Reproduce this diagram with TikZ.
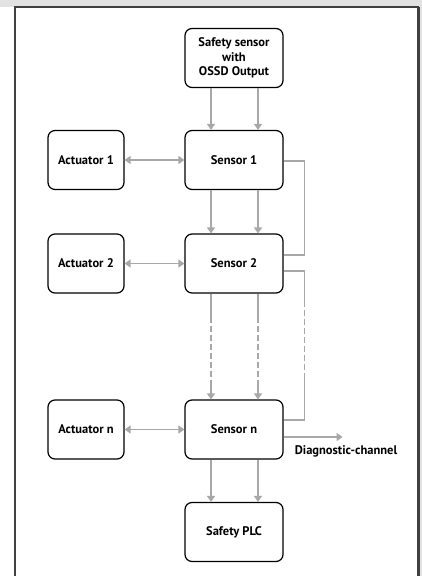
\documentclass[tikz,border=0pt]{standalone}
\usepackage{fontspec}
\setmainfont{PT Sans}
\usetikzlibrary{arrows.meta,calc}
\definecolor{connc}{HTML}{A8A8A8}
\definecolor{framec}{HTML}{404040}
\definecolor{bgc}{HTML}{E2E2E2}
\begin{document}
\begin{tikzpicture}[x=1pt,y=-1pt,
  box/.style={draw=black,line width=1.2pt,rounded corners=7pt,fill=white,
    minimum width=98pt,minimum height=59pt,align=center,inner sep=0pt,
    font=\bfseries\fontsize{12.5}{14.5}\selectfont},
  actbox/.style={box,minimum width=76pt},
  connline/.style={draw=connc,line width=1.4pt},
  tiparrow/.style={-{Triangle[width=8pt,length=6pt]}},
  bothtips/.style={{Triangle[width=8pt,length=6pt]}-{Triangle[width=8pt,length=6pt]}},
  lbl/.style={font=\bfseries\fontsize{12.5}{14}\selectfont,inner sep=0pt}
]
\useasboundingbox (0,0) rectangle (422,576);
\fill[bgc] (0,0) rectangle (422,576);
\fill[white] (0,7) rectangle (419,576);
\draw[framec,line width=1.3pt] (14,7) -- (419,7);
\draw[framec,line width=2pt] (14.8,7) -- (14.8,576);
\draw[framec,line width=2.4pt] (418.3,7) -- (418.3,576);

\node[box] (safe) at (234,58) {Safety sensor\\with\\OSSD Output};
\node[box] (s1) at (234,160) {Sensor 1};
\node[box] (s2) at (234,263.5) {Sensor 2};
\node[box] (sn) at (234,429.5) {Sensor n};
\node[box] (plc) at (234,532) {Safety PLC};
\node[actbox] (a1) at (86,160) {Actuator 1};
\node[actbox] (a2) at (86,263.5) {Actuator 2};
\node[actbox] (an) at (86,429.5) {Actuator n};
\node[lbl,anchor=north] (diag) at (346,445) {Diagnostic-channel};

\foreach \a/\b in {safe/s1,s1/s2,sn/plc}
  \foreach \dx in {-23,24}
    \draw[connline,tiparrow] ($(\a.south)+(\dx,0)$) -- ($(\b.north)+(\dx,0)$);

\foreach \dx in {-23,24}
  \draw[connline,tiparrow,dash pattern=on 29pt off 3pt on 6pt off 3pt on 6pt off 3pt on 6pt off 3pt on 6pt off 3pt on 6pt off 3pt on 6pt off 3pt on 60pt]
    ($(s2.south)+(\dx,0)$) -- ($(sn.north)+(\dx,0)$);

\draw[connline,bothtips] (a1) -- (s1);
\draw[connline,bothtips] (a2) -- (s2);
\draw[connline,bothtips] (an) -- (sn);

\draw[connline] ($(s1.east)+(0,1)$) -- ++(21,0) |- ($(s2.east)+(0,-8.5)$);
\draw[connline,dash pattern=on 57pt off 3pt on 6pt off 3pt on 6pt off 3pt on 6pt off 3pt on 6pt off 3pt on 6pt off 3pt on 6pt off 3pt on 6pt off 3pt on 200pt]
  ($(s2.east)+(0,7.5)$) -- ++(21,0) |- ($(sn.east)+(0,-9.5)$);
\draw[connline,tiparrow] ($(sn.east)+(0,7.5)$) -- ++(59,0) coordinate (dend);
\end{tikzpicture}
\end{document}
